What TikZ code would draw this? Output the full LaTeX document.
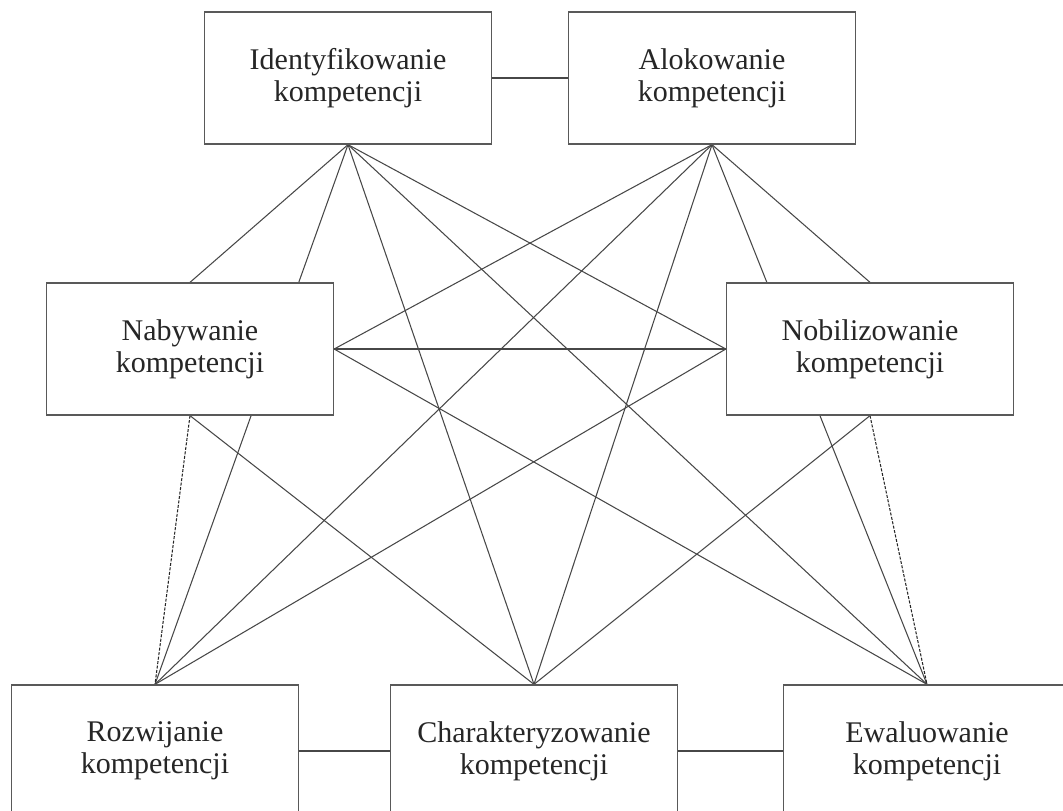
\documentclass[tikz,border=0pt]{standalone}
\usepackage{fontspec}
\setmainfont{Liberation Serif}
\usetikzlibrary{backgrounds}
\begin{document}
\begin{tikzpicture}[x=1pt,y=-1pt,
  stage/.style={draw=black!65, line width=1.3pt, fill=white, rectangle,
    minimum width=287pt, minimum height=132pt, inner sep=0pt,
    align=center, text=black!85,
    font=\fontsize{30pt}{32pt}\selectfont},
  link/.style={draw=black!72, line width=1.05pt},
  dotlink/.style={link, draw=black!85, dash pattern=on 3pt off 1.5pt}]
\clip (0,0) rectangle (1063,811);

% top row
\node[stage] (I) at (348,78) {Identyfikowanie\\kompetencji};
\node[stage] (A) at (712,78) {Alokowanie\\kompetencji};
% middle row
\node[stage] (N) at (190,349) {Nabywanie\\kompetencji};
\node[stage] (M) at (870,349) {Nobilizowanie\\kompetencji};
% bottom row
\node[stage] (R) at (155,751) {Rozwijanie\\kompetencji};
\node[stage] (C) at (534,751) {Charakteryzowanie\\kompetencji};
\node[stage] (E) at (927,751) {Ewaluowanie\\kompetencji};

\begin{scope}[on background layer]
  \fill[white] (0,0) rectangle (1063,811);
  % row neighbours
  \draw[link] (I.east) -- (A.west);
  \draw[link] (R.east) -- (C.west);
  \draw[link] (C.east) -- (E.west);
  \draw[link] (N.east) -- (M.west);
  % from Identyfikowanie
  \draw[link] (I.south) -- (N.north);
  \draw[link] (I.south) -- (R.north);
  \draw[link] (I.south) -- (C.north);
  \draw[link] (I.south) -- (E.north);
  \draw[link] (I.south) -- (M.west);
  % from Alokowanie
  \draw[link] (A.south) -- (M.north);
  \draw[link] (A.south) -- (E.north);
  \draw[link] (A.south) -- (N.east);
  \draw[link] (A.south) -- (R.north);
  \draw[link] (A.south) -- (C.north);
  % from Nabywanie
  \draw[link] (N.east) -- (E.north);
  \draw[dotlink] (N.south) -- (R.north);
  \draw[link] (N.south) -- (C.north);
  % from Nobilizowanie
  \draw[link] (M.west) -- (R.north);
  \draw[dotlink] (M.south) -- (E.north);
  \draw[link] (M.south) -- (C.north);
\end{scope}
\end{tikzpicture}
\end{document}
